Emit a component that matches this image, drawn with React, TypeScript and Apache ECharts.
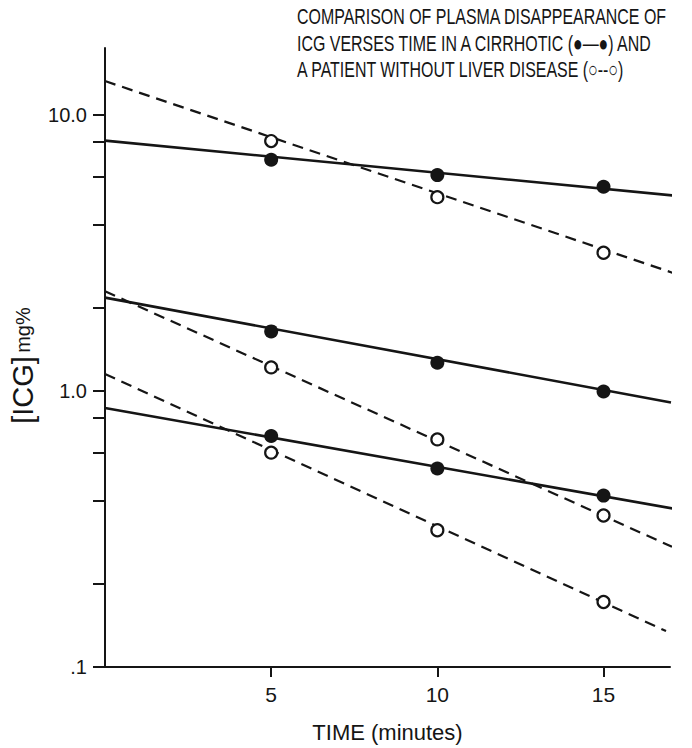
import React, { useEffect, useRef } from 'react';
import * as echarts from 'echarts';

// Sampling times (minutes)
const times = [5, 10, 15];

// Measured plasma ICG (mg%) — cirrhotic (filled) and normal (open), three pairs
const cirrhoticA = [6.89, 6.06, 5.5];
const normalA = [8.05, 5.04, 3.17];
const cirrhoticB = [1.645, 1.266, 0.996];
const normalB = [1.218, 0.668, 0.354];
const cirrhoticC = [0.687, 0.524, 0.418];
const normalC = [0.598, 0.313, 0.172];

// Fitted lines: value at t = 0 and at the line's right end
const fitStartTime = 0;
const cirrhoticFitStart = [8.08, 2.18, 0.868];
const cirrhoticFitEnd = [5.09, 0.909, 0.3745];
const cirrhoticFitEndTime = [17.27, 17.03, 17.12];
const normalFitStart = [13.28, 2.3, 1.153];
const normalFitEnd = [2.65, 0.2726, 0.135];
const normalFitEndTime = [17.21, 17.06, 16.88];

// Axis ticks / labels
const yTickValues = [0.1, 0.2, 0.4, 0.6, 0.8, 1, 2, 4, 6, 8, 10];
const yLabelValues = [0.1, 1, 10];
const xTickValues = [5, 10, 15];

const titleLines = [
  'COMPARISON OF PLASMA DISAPPEARANCE OF',
  'ICG VERSES TIME IN A CIRRHOTIC (\u25CF\u2014\u25CF) AND',
  'A PATIENT WITHOUT LIVER DISEASE (\u25CB--\u25CB)',
];

const INK = '#151515';
const FONT = '"Liberation Sans", Arial, sans-serif';

export default function App() {
  const ref = useRef<HTMLDivElement>(null);

  useEffect(() => {
    if (!ref.current) return;
    const chart = echarts.init(ref.current, null, { renderer: 'svg' });

    const cirrhotic = [cirrhoticA, cirrhoticB, cirrhoticC];
    const normal = [normalA, normalB, normalC];

    const series: any[] = [];
    for (let i = 0; i < 3; i++) {
      series.push({
        type: 'line',
        name: 'cirrhotic fit ' + (i + 1),
        data: [
          [fitStartTime, cirrhoticFitStart[i]],
          [cirrhoticFitEndTime[i], cirrhoticFitEnd[i]],
        ],
        symbol: 'none',
        clip: false,
        silent: true,
        z: 2,
        lineStyle: { color: INK, width: 2.6, type: 'solid' },
      });
      series.push({
        type: 'line',
        name: 'normal fit ' + (i + 1),
        data: [
          [fitStartTime, normalFitStart[i]],
          [normalFitEndTime[i], normalFitEnd[i]],
        ],
        symbol: 'none',
        clip: false,
        silent: true,
        z: 2,
        lineStyle: { color: INK, width: 2.2, type: [11, 7] },
      });
      series.push({
        type: 'scatter',
        name: 'cirrhotic ' + (i + 1),
        data: times.map((t, k) => [t, cirrhotic[i][k]]),
        symbol: 'circle',
        symbolSize: 14,
        z: 5,
        itemStyle: { color: INK, opacity: 1 },
      });
      series.push({
        type: 'scatter',
        name: 'normal ' + (i + 1),
        data: times.map((t, k) => [t, normal[i][k]]),
        symbol: 'circle',
        symbolSize: 12,
        z: 5,
        itemStyle: { color: '#ffffff', borderColor: INK, borderWidth: 2.2, opacity: 1 },
      });
    }

    chart.setOption({
      animation: false,
      backgroundColor: '#ffffff',
      grid: { left: 105, right: 22, top: 48, bottom: 75 },
      graphic: [
        {
          type: 'group',
          x: 297,
          y: 0,
          scaleX: 0.725,
          children: titleLines.map((line, i) => ({
            type: 'text',
            x: 0,
            y: 17 + i * 26.5,
            style: {
              text: line,
              font: '22px ' + FONT,
              fill: INK,
              align: 'left',
              verticalAlign: 'middle',
            },
          })),
        },
      ],
      xAxis: {
        type: 'value',
        min: 0,
        max: 17,
        name: 'TIME (minutes)',
        nameLocation: 'middle',
        nameGap: 54,
        nameTextStyle: { fontFamily: FONT, fontSize: 22, color: INK },
        splitLine: { show: false },
        axisLine: { onZero: false, lineStyle: { color: INK, width: 2 } },
        axisTick: { customValues: xTickValues, length: 10, lineStyle: { color: INK, width: 2 } },
        axisLabel: {
          customValues: xTickValues,
          margin: 17,
          fontFamily: FONT,
          fontSize: 21,
          color: INK,
        },
      },
      yAxis: {
        type: 'log',
        logBase: 10,
        min: 0.1,
        max: 17.5,
        name: '{a|[ICG]} {b|mg%}',
        nameLocation: 'middle',
        nameRotate: 90,
        nameGap: 54,
        nameTextStyle: {
          color: INK,
          padding: [0, 16, 0, 0],
          rich: {
            a: { fontFamily: FONT, fontSize: 29, color: INK },
            b: { fontFamily: FONT, fontSize: 20, color: INK },
          },
        },
        splitLine: { show: false },
        axisLine: { onZero: false, lineStyle: { color: INK, width: 2 } },
        axisTick: { customValues: yTickValues, length: 12, lineStyle: { color: INK, width: 2 } },
        axisLabel: {
          customValues: yLabelValues,
          margin: 18,
          fontFamily: FONT,
          fontSize: 20,
          color: INK,
          formatter: (v: number) => (v < 0.5 ? '.1' : v.toFixed(1)),
        },
      },
      series,
    });

    return () => chart.dispose();
  }, []);

  return (
    <div
      ref={ref}
      style={{ position: 'fixed', left: 0, top: 0, width: 692, height: 748 }}
    />
  );
}
